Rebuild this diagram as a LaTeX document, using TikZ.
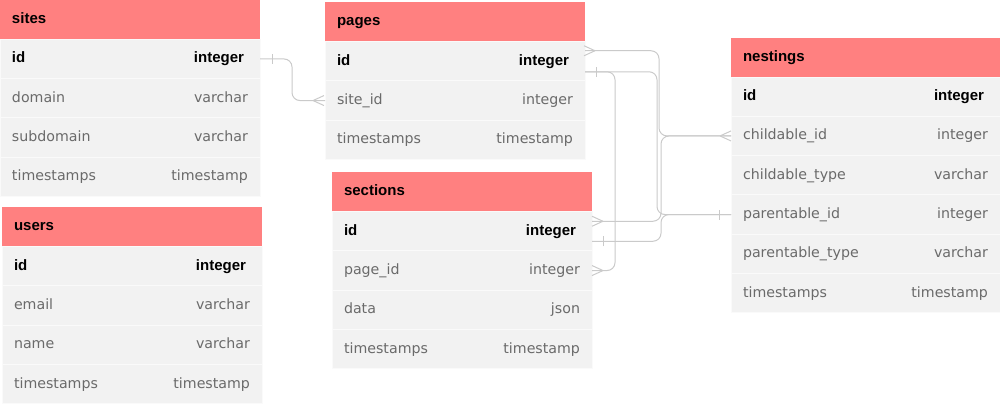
\documentclass[tikz,border=0pt]{standalone}
\usepackage{fontspec}
\setmainfont{DejaVu Sans}[BoldFont={Liberation Sans Bold}]
\usetikzlibrary{positioning}
\usepackage{xcolor}

\definecolor{headfill}{HTML}{FF8080}
\definecolor{rowfill}{HTML}{F2F2F2}
\definecolor{rowline}{HTML}{FAFAFA}
\definecolor{fieldgray}{HTML}{6A6A6A}
\definecolor{linkgray}{HTML}{CACACA}

\newcommand{\keytxt}[1]{{\fontsize{15}{18}\selectfont\bfseries\color{black}#1}}

% table: name, north west corner, text width, title, further rows
\newcommand{\erdtable}[5]{%
  \node[tablehead, anchor=north west] (#1-0) at (#2) {\makebox[#3][l]{#4}};
  \node[tablerow, below=0pt of #1-0] (#1-1) {\makebox[#3]{\keytxt{id}\hfill\keytxt{integer}\hspace*{4pt}}};
  \foreach \fld/\typ [count=\i from 2, remember=\i as \j (initially 1)] in {#5}
    \node[tablerow, below=0pt of #1-\j] (#1-\i) {\makebox[#3]{\fld\hfill\typ}};
}

\tikzset{
  tablehead/.style={rectangle, fill=headfill, inner xsep=12pt, inner ysep=0pt, outer sep=0pt,
    minimum height=39.3pt, text height=11pt, text depth=3pt, font=\fontsize{15}{18}\selectfont\bfseries},
  tablerow/.style={rectangle, fill=rowfill, draw=rowline, line width=1pt, inner xsep=12pt, inner ysep=0pt,
    outer sep=0pt, minimum height=39.3pt, text height=11pt, text depth=3pt, text=fieldgray,
    font=\fontsize{14.2}{17}\selectfont},
  link/.style={draw=linkgray, line width=1pt, rounded corners=8pt},
  crowfoot/.pic={\draw[link] (0,0) -- (11,5) (0,0) -- (11,-5);},
  onebar/.pic={\draw[link] (0,-5) -- (0,5);}
}

\begin{document}
\begin{tikzpicture}[x=1pt,y=1pt,yscale=-1,xscale=1]
\useasboundingbox (0,0) rectangle (1000,404);

%Shape: Table [sites]
\erdtable{sites}{0,0}{236pt}{sites}{domain/varchar, subdomain/varchar, timestamps/timestamp}
%Shape: Table [users]
\erdtable{users}{2,207.3}{236pt}{users}{email/varchar, name/varchar, timestamps/timestamp}
%Shape: Table [pages]
\erdtable{pages}{325,2.3}{236pt}{pages}{site\_id/integer, timestamps/timestamp}
%Shape: Table [sections]
\erdtable{sections}{332,172.3}{236pt}{sections}{page\_id/integer, data/json, timestamps/timestamp}
%Shape: Table [nestings]
\erdtable{nestings}{731,37.7}{245pt}{nestings}{childable\_id/integer, childable\_type/varchar, parentable\_id/integer, parentable\_type/varchar, timestamps/timestamp}

% link ends on the id rows
\coordinate (pg-many) at ([yshift=-10.5pt]pages-1.east);
\coordinate (pg-one) at ([yshift=10.5pt]pages-1.east);
\coordinate (sc-many) at ([yshift=-10pt]sections-1.east);
\coordinate (sc-one) at ([yshift=10pt]sections-1.east);

%Curve Lines [sites - pages]
\draw[link] (sites-1.east) -- ++(32,0) |- (pages-2.west);
\pic at ([xshift=12pt]sites-1.east) {onebar};
\pic at ([xshift=-12pt]pages-2.west) {crowfoot};
%Curve Lines [pages - sections]
\draw[link] (pg-one) -- ++(30,0) |- (sections-2.east);
\pic[rotate=180] at ([xshift=11pt]sections-2.east) {crowfoot};
%Curve Lines [childable]
\draw[link] (pg-many) -- ++(74,0) |- (nestings-2.west);
\draw[link] (sc-many) -- ++(69,0) |- (nestings-2.west);
\pic[rotate=180] at ([xshift=10pt]pg-many) {crowfoot};
\pic[rotate=180] at ([xshift=11pt]sc-many) {crowfoot};
\pic at ([xshift=-11pt]nestings-2.west) {crowfoot};
%Curve Lines [parentable]
\draw[link] (pg-one) -- ++(72,0) |- (nestings-4.west);
\draw[link] (sc-one) -- ++(69,0) |- (nestings-4.west);
\pic at ([xshift=11pt]pg-one) {onebar};
\pic at ([xshift=11pt]sc-one) {onebar};
\pic at ([xshift=-12pt]nestings-4.west) {onebar};

\end{tikzpicture}
\end{document}
